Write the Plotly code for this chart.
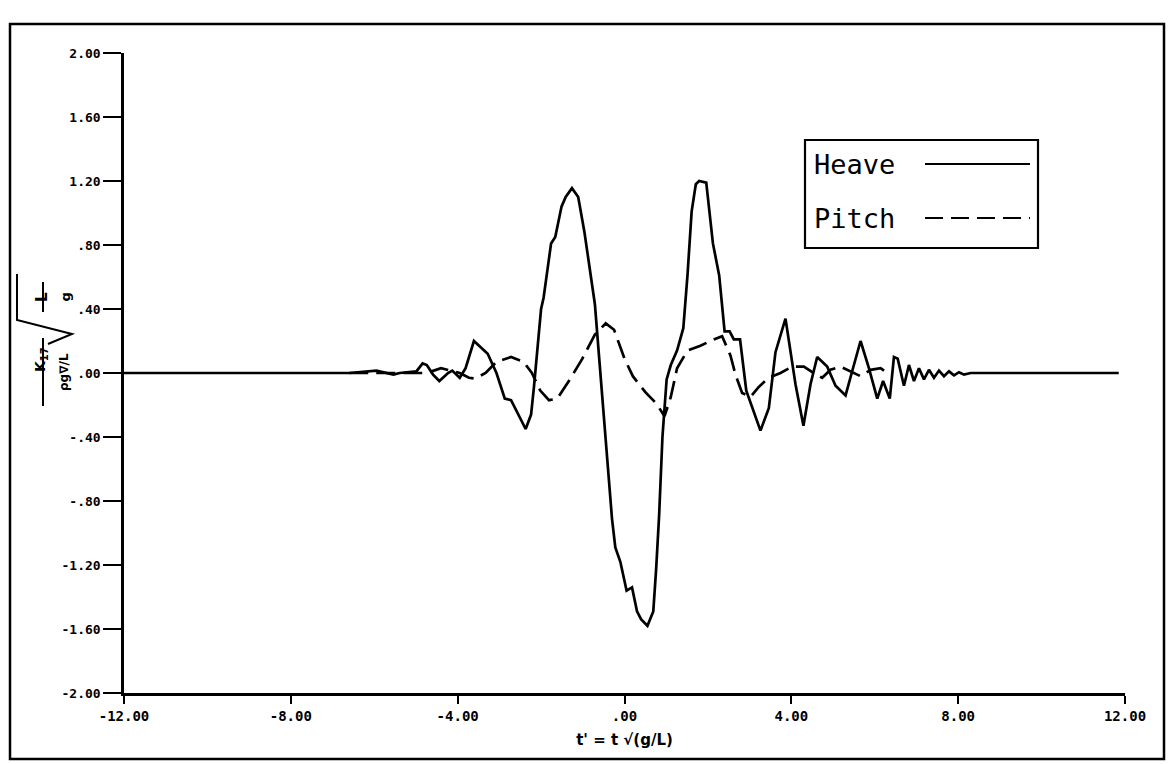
import plotly.graph_objects as go

# ---------------- data ----------------
heave_t = [-12.0, -6.6, -5.95, -5.54, -5.39, -4.99, -4.84, -4.74, -4.59, -4.44, -4.23, -4.13,
           -3.95, -3.81, -3.61, -3.28, -3.07, -2.87, -2.72, -2.37, -2.24, -2.17, -2.0, -1.94,
           -1.76, -1.66, -1.51, -1.41, -1.26, -1.11, -0.96, -0.81, -0.71, -0.60, -0.50, -0.40,
           -0.30, -0.22, -0.10, 0.05, 0.18, 0.30, 0.40, 0.55, 0.69, 0.76, 0.83, 0.91, 1.01,
           1.11, 1.26, 1.41, 1.51, 1.61, 1.71, 1.79, 1.96, 2.12, 2.27, 2.40, 2.52, 2.62, 2.77,
           2.92, 3.26, 3.46, 3.62, 3.86, 4.10, 4.29, 4.46, 4.62, 4.86, 5.06, 5.30, 5.50, 5.66,
           5.86, 6.06, 6.20, 6.36, 6.46, 6.55, 6.70, 6.82, 6.94, 7.06, 7.18, 7.30, 7.42, 7.54,
           7.66, 7.78, 7.90, 8.02, 8.14, 8.30, 11.85]
heave_v = [0.0, 0.0, 0.015, -0.01, 0.0, 0.01, 0.06, 0.05, -0.01, -0.05, 0.0, 0.015,
           -0.03, 0.03, 0.20, 0.12, 0.0, -0.16, -0.17, -0.35, -0.26, -0.085, 0.40, 0.47,
           0.81, 0.85, 1.04, 1.10, 1.155, 1.10, 0.88, 0.61, 0.43, 0.07, -0.26, -0.55,
           -0.91, -1.09, -1.18, -1.36, -1.34, -1.49, -1.54, -1.58, -1.49, -1.22, -0.89, -0.40, -0.04,
           0.05, 0.14, 0.28, 0.61, 1.01, 1.18, 1.20, 1.19, 0.81, 0.61, 0.26, 0.26, 0.21, 0.21,
           -0.11, -0.36, -0.22, 0.13, 0.34, -0.07, -0.33, -0.07, 0.10, 0.04, -0.08, -0.14, 0.05, 0.20,
           0.03, -0.16, -0.05, -0.16, 0.10, 0.09, -0.08, 0.05, -0.05, 0.03, -0.04, 0.02, -0.03, 0.015,
           -0.02, 0.01, -0.015, 0.005, -0.01, 0.0, 0.0]

pitch_t = [-6.6, -4.74, -4.4, -3.95, -3.73, -3.58, -3.33, -3.07, -2.72, -2.42, -2.22, -2.02,
           -1.81, -1.61, -1.31, -1.01, -0.71, -0.45, -0.25, 0.0, 0.20, 0.50, 0.76, 0.96,
           1.11, 1.26, 1.51, 1.82, 2.14, 2.34, 2.54, 2.66, 2.82, 3.02, 3.21, 3.45, 3.74,
           4.02, 4.30, 4.53, 4.74, 4.94, 5.18, 5.42, 5.66, 5.90, 6.14, 6.30]
pitch_v = [0.0, 0.0, 0.03, 0.0, -0.03, -0.035, 0.0, 0.07, 0.10, 0.07, 0.0, -0.11,
           -0.17, -0.16, -0.04, 0.09, 0.24, 0.31, 0.27, 0.09, -0.02, -0.12, -0.19, -0.27,
           -0.15, 0.03, 0.14, 0.17, 0.21, 0.23, 0.11, -0.01, -0.125, -0.15, -0.09, -0.03, 0.0,
           0.04, 0.04, 0.0, -0.03, 0.02, 0.04, 0.01, -0.02, 0.02, 0.03, 0.0]

x_ticks = [-12, -8, -4, 0, 4, 8, 12]
x_ticktext = ["-12.00", "-8.00", "-4.00", ".00", "4.00", "8.00", "12.00"]
y_ticks = [-2.0, -1.6, -1.2, -0.8, -0.4, 0.0, 0.4, 0.8, 1.2, 1.6, 2.0]
y_ticktext = ["-2.00", "-1.60", "-1.20", "-.80", "-.40", ".00", ".40", ".80", "1.20", "1.60", "2.00"]

# ---------------- layout geometry ----------------
W, H = 1168, 764
L_S, R_S, T_S, B_S = 124, 1125, 53, 693   # plot-area edges in pixels


def px(xs):
    return (xs - L_S) / (R_S - L_S)


def py(ys):
    return (B_S - ys) / (B_S - T_S)


fig = go.Figure()
fig.add_trace(go.Scatter(x=heave_t, y=heave_v, mode="lines", name="Heave",
                         line=dict(color="black", width=2.7), showlegend=False))
fig.add_trace(go.Scatter(x=pitch_t, y=pitch_v, mode="lines", name="Pitch",
                         line=dict(color="black", width=2.7, dash="19px,8px"), showlegend=False))

fig.update_layout(
    width=W, height=H,
    margin=dict(l=L_S, r=W - R_S, t=T_S, b=H - B_S),
    paper_bgcolor="white", plot_bgcolor="white",
    xaxis=dict(range=[-12, 12], tickvals=x_ticks, ticktext=x_ticktext,
               showgrid=False, zeroline=False, showline=True, linecolor="black", linewidth=2.5,
               ticks="outside", ticklen=8, tickwidth=2, tickcolor="black",
               tickfont=dict(family="DejaVu Sans Mono", size=14, color="black", weight="bold"),
               title=dict(text="t' = t √(g/L)", standoff=12,
                          font=dict(family="DejaVu Sans", size=15, color="black", weight="bold"))),
    yaxis=dict(range=[-2, 2], tickvals=y_ticks, ticktext=y_ticktext,
               showgrid=False, zeroline=False, showline=True, linecolor="black", linewidth=2.5,
               ticks="outside", ticklen=18, tickwidth=2, tickcolor="black",
               tickfont=dict(family="DejaVu Sans Mono", size=13, color="black", weight="bold")),
)

shapes = []
# outer frame
shapes.append(dict(type="rect", xref="paper", yref="paper",
                   x0=px(10), x1=px(1164), y0=py(24), y1=py(759),
                   line=dict(color="black", width=2.5)))
# legend box
shapes.append(dict(type="rect", xref="paper", yref="paper",
                   x0=px(805), x1=px(1038), y0=py(140), y1=py(248),
                   line=dict(color="black", width=2.2)))
shapes.append(dict(type="line", xref="paper", yref="paper",
                   x0=px(925), x1=px(1030), y0=py(164), y1=py(164),
                   line=dict(color="black", width=2.2)))
shapes.append(dict(type="line", xref="paper", yref="paper",
                   x0=px(925), x1=px(1030), y0=py(218), y1=py(218),
                   line=dict(color="black", width=2.2, dash="18px,8px")))
# y-title fraction bars and radical
shapes.append(dict(type="line", xref="paper", yref="paper",
                   x0=px(43), x1=px(43), y0=py(338), y1=py(406),
                   line=dict(color="black", width=2)))
shapes.append(dict(type="line", xref="paper", yref="paper",
                   x0=px(43), x1=px(43), y0=py(282), y1=py(312),
                   line=dict(color="black", width=2)))
shapes.append(dict(type="path", xref="paper", yref="paper",
                   path=f"M {px(48)},{py(344)} L {px(72)},{py(334)} L {px(17)},{py(320)} L {px(17)},{py(274)}",
                   line=dict(color="black", width=2)))
fig.update_layout(shapes=shapes)

ann = []
legfont = dict(family="DejaVu Sans Mono", size=27, color="black")
ann.append(dict(xref="paper", yref="paper", x=px(812), y=py(164), text="Heave",
                showarrow=False, xanchor="left", yanchor="middle", font=legfont))
ann.append(dict(xref="paper", yref="paper", x=px(812), y=py(218), text="Pitch",
                showarrow=False, xanchor="left", yanchor="middle", font=legfont))
# rotated y-axis title pieces
ann.append(dict(xref="paper", yref="paper", x=px(30), y=py(360), text="K<sub>17</sub>",
                showarrow=False, textangle=-90,
                font=dict(family="DejaVu Sans", size=14, color="black", weight="bold")))
ann.append(dict(xref="paper", yref="paper", x=px(55), y=py(372), text="ρg∇/L",
                showarrow=False, textangle=-90,
                font=dict(family="DejaVu Sans", size=12, color="black", weight="bold")))
ann.append(dict(xref="paper", yref="paper", x=px(31), y=py(297), text="L",
                showarrow=False, textangle=-90,
                font=dict(family="DejaVu Sans", size=15, color="black", weight="bold")))
ann.append(dict(xref="paper", yref="paper", x=px(55), y=py(297), text="g",
                showarrow=False, textangle=-90,
                font=dict(family="DejaVu Sans", size=13, color="black", weight="bold")))
fig.update_layout(annotations=ann)

fig.write_html("out.html",
               config={"displayModeBar": False},
               post_script="document.body.style.margin='0';document.body.style.overflow='hidden';")
